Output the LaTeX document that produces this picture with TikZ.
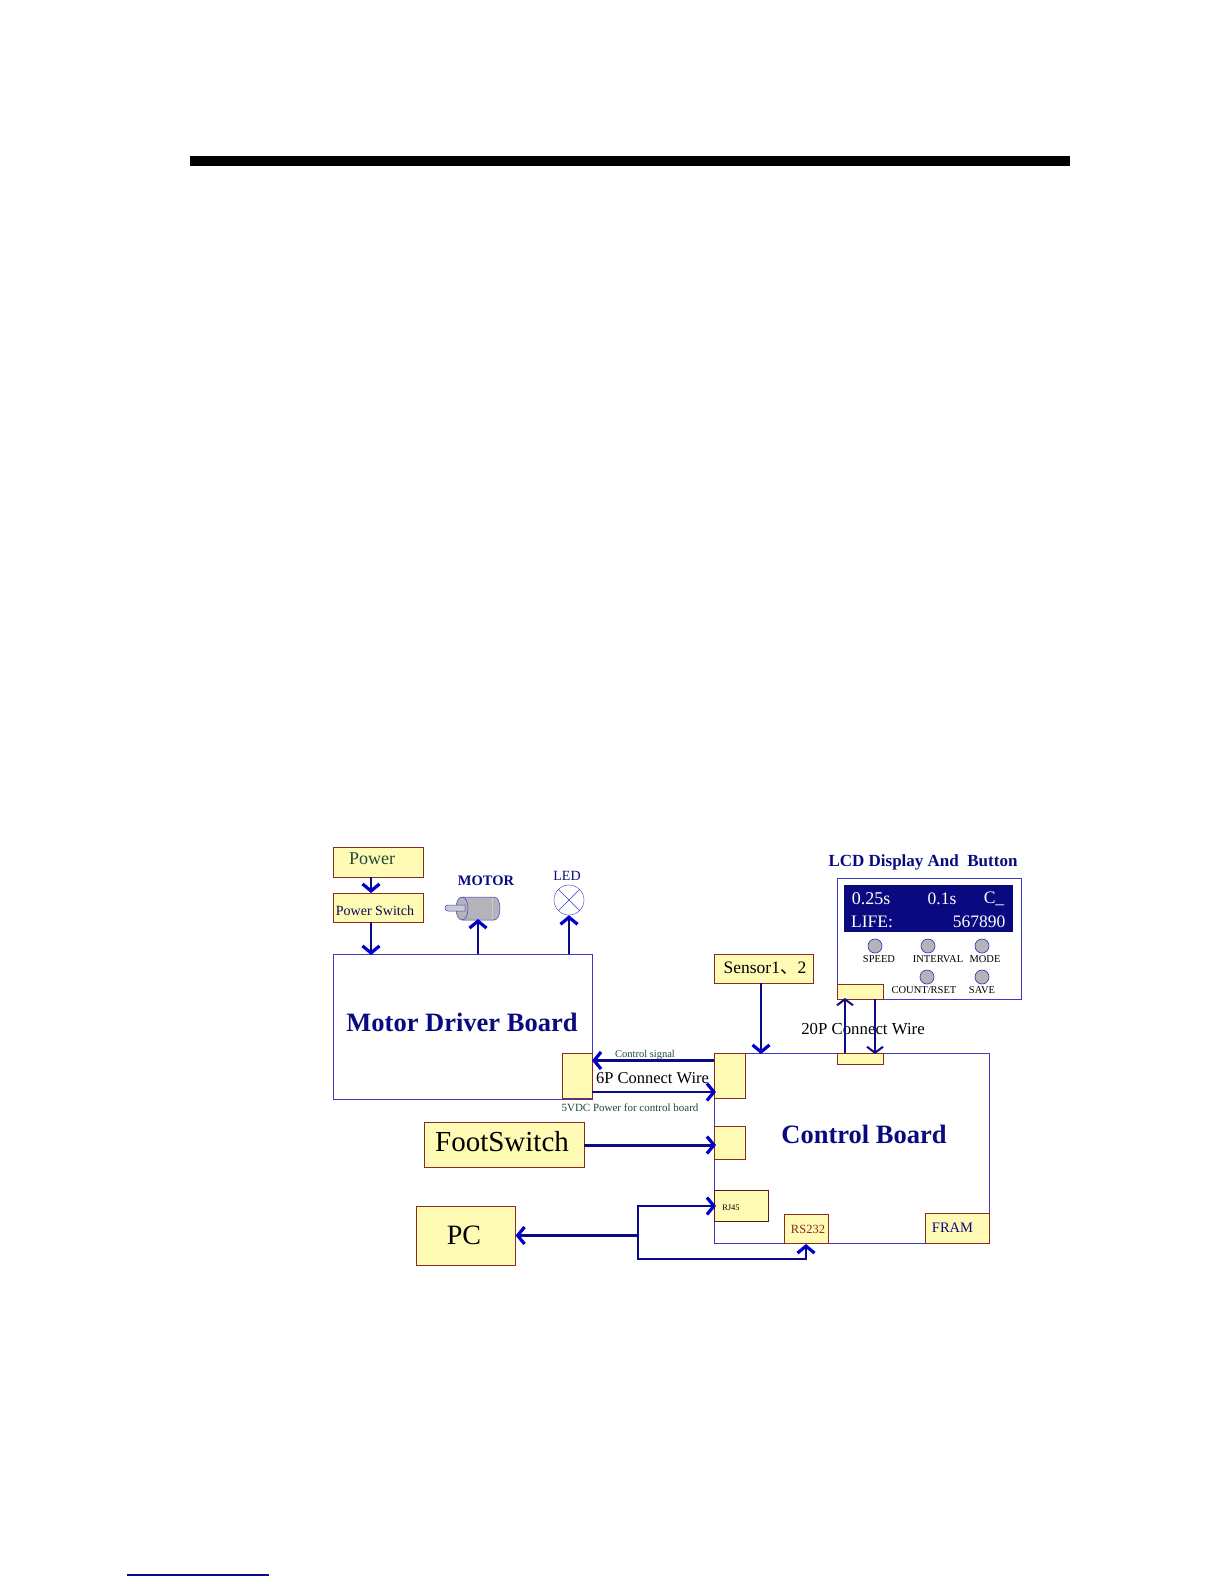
\documentclass[tikz,border=0pt]{standalone}
\usepackage{xcolor}
\usepackage{fontspec}
\setmainfont{Liberation Serif}
\newfontfamily\cjk{Noto Sans CJK SC}
\usepackage{tikz}
\usetikzlibrary{arrows.meta, positioning, shapes.geometric, calc}
\definecolor{padyellow}{HTML}{FFFBB4}
\definecolor{padedge}{HTML}{8A2A20}
\definecolor{boardedge}{HTML}{3A3AC4}
\definecolor{wirenavy}{HTML}{0A0A8A}
\definecolor{tipblue}{HTML}{0000CC}
\definecolor{lcdnavy}{HTML}{0A0A80}
\definecolor{dullgreen}{HTML}{1E4A3A}
\definecolor{btngray}{HTML}{B4B4B8}
\newcommand{\px}[1]{\fontsize{#1}{#1}\selectfont}

\begin{document}
\begin{tikzpicture}[
    x=1pt, y=-1pt,
    pad/.style={rectangle, draw=padedge, fill=padyellow, line width=1pt, inner sep=0pt},
    board/.style={rectangle, draw=boardedge, line width=1pt, inner sep=0pt},
    wire/.style={draw=wirenavy, line width=2.6pt},
    into/.style={wire, -{Straight Barb[color=tipblue, length=7pt, width=17pt, line width=3.2pt]}},
    thinwire/.style={draw=wirenavy, line width=2pt, -{Straight Barb[length=6pt, width=16pt, line width=2pt]}},
    title/.style={inner sep=0pt, text=lcdnavy, font=\bfseries\px{26.5}},
    small/.style={inner sep=0pt, font=\px{10.5}, text=black},
    button/.style={circle, draw=boardedge, fill=btngray, line width=0.7pt, minimum size=14pt, inner sep=0pt}
]
\useasboundingbox (0,0) rectangle (1224,1584);

\fill[black] (190,156) rectangle (1070,166);
\draw[wirenavy, line width=1.2pt] (127,1575) -- (269,1575);

% boards
\node[board, minimum width=259pt, minimum height=145pt] (driver) at (462.5,1026.5) {};
\node[board, minimum width=275pt, minimum height=190pt] (control) at (851.5,1148) {};
\node[title] (drivertitle) at (462,1022) {Motor Driver Board};
\node[title] (controltitle) at (864,1134) {Control Board};

% boxes on the left
\node[pad, minimum width=90pt, minimum height=30pt] (power) at (378,862) {};
\node[inner sep=0pt, text=dullgreen, font=\px{18}] (powertext) at (372,859) {Power};
\node[pad, minimum width=90pt, minimum height=29pt] (powsw) at (378,907.5) {};
\node[inner sep=0pt, text=lcdnavy!70!black, font=\px{14}] (powswtext) at (375,911) {Power Switch};
\node[pad, minimum width=160pt, minimum height=45pt] (foot) at (504,1144.5) {};
\node[inner sep=0pt, font=\px{29}] (foottext) at (502,1142) {FootSwitch};
\node[pad, minimum width=99pt, minimum height=59pt] (pc) at (465.5,1235.5) {};
\node[inner sep=0pt, font=\px{28}] (pctext) at (464,1235) {PC};
\node[pad, minimum width=99pt, minimum height=29pt] (sensor) at (763.5,968.5) {};
\node[inner sep=0pt, font=\px{17.5}] (sensortext) at (765,968) {Sensor1{\cjk 、}2};

% connectors on the boards
\node[pad, minimum width=30pt, minimum height=45pt] (driverpad) at (577,1075.5) {};
\node[pad, minimum width=31pt, minimum height=45pt] (ctrlpad) at (729.5,1075.5) {};
\node[pad, minimum width=31pt, minimum height=33pt] (footpad) at (729.5,1142.5) {};
\node[pad, draw=black!35!padedge, minimum width=54pt, minimum height=31pt] (rjpad) at (741,1205.5) {};
\node[small, font=\px{8.5}] (rjtext) at (731,1208) {RJ45};
\node[pad, minimum width=44pt, minimum height=29pt] (rspad) at (806,1228.5) {};
\node[small, text=padedge, font=\px{12.5}] (rstext) at (808,1229) {RS232};
\node[pad, minimum width=64pt, minimum height=30pt] (frampad) at (957,1228) {};
\node[small, text=lcdnavy, font=\px{14.5}] (framtext) at (952.5,1228) {FRAM};

% lcd panel
\node[inner sep=0pt, text=lcdnavy, font=\bfseries\px{17}] (lcdtitle) at (923,862) {LCD Display And\ \ Button};
\node[board, minimum width=184pt, minimum height=121pt] (lcd) at (929,938.5) {};
\node[rectangle, fill=lcdnavy, minimum width=169pt, minimum height=47pt, inner sep=0pt] (screen) at (928.5,908.5) {};
\node[inner sep=0pt, text=white, font=\px{18}] (speedval) at (871,899) {0.25s};
\node[inner sep=0pt, text=white, font=\px{17.5}] (gapval) at (942,899) {0.1s};
\node[inner sep=0pt, text=white, font=\px{17.5}] (modeval) at (994,899) {C\_};
\node[inner sep=0pt, text=white, font=\px{17.5}] (lifeval) at (872,922) {LIFE:};
\node[inner sep=0pt, text=white, font=\px{17.5}] (countval) at (979,922) {567890};
\node[button] (speedbtn) at (875,946) {};
\node[button] (intervalbtn) at (928,946) {};
\node[button] (modebtn) at (982,946) {};
\node[button] (countbtn) at (927,977) {};
\node[button] (savebtn) at (982,977) {};
\node[small] (speedtext) at (879,959.5) {SPEED};
\node[small] (intervaltext) at (938,959.5) {INTERVAL};
\node[small] (modetext) at (985,959.5) {MODE};
\node[small] (counttext) at (924,990.5) {COUNT/RSET};
\node[small] (savetext) at (982,990.5) {SAVE};
\node[pad, minimum width=46pt, minimum height=15pt] (lcdpad) at (860,991.5) {};
\node[pad, minimum width=46pt, minimum height=11pt] (toppad) at (860,1058.5) {};

% motor and lamp
\draw[boardedge, fill=btngray, line width=0.5pt] (462,897) -- (494,897) .. controls (502,897) and (502,920) .. (494,920) -- (462,920) .. controls (454,920) and (454,897) .. (462,897) -- cycle;
\draw[boardedge, line width=0.5pt] (462,897) .. controls (470,897) and (470,920) .. (462,920);
\draw[btngray!70!white, line width=0.8pt] (492,898) -- (492,919);
\draw[boardedge, fill=btngray!70, line width=0.5pt] (465,905) -- (448,905) .. controls (444,905) and (444,911) .. (448,911) -- (465,911) -- cycle;
\node[inner sep=0pt, text=lcdnavy, font=\bfseries\px{14.5}] (motortext) at (486,881) {MOTOR};
\node[circle, draw=boardedge, minimum size=30pt, inner sep=0pt] (led) at (569,900) {};
\draw[boardedge, line width=0.5pt] (led.north east) -- (led.south west);
\draw[boardedge, line width=0.5pt] (led.north west) -- (led.south east);
\node[inner sep=0pt, text=lcdnavy, font=\px{14}] (ledtext) at (567,876) {LED};

% wire labels
\node[inner sep=0pt, font=\px{10.5}, text=dullgreen] (signaltext) at (645,1055) {Control signal};
\node[inner sep=0pt, font=\px{16.5}] (sixptext) at (652.5,1078) {6P Connect Wire};
\node[inner sep=0pt, font=\px{11}, text=dullgreen] (powertwotext) at (630,1108) {5VDC Power for control board};
\node[inner sep=0pt, font=\px{16.8}] (twentyptext) at (863,1029) {20P Connect Wire};

% wires
\coordinate (powerout) at (371,877);
\coordinate (swin) at (371,893);
\coordinate (swout) at (371,922);
\coordinate (driverin) at (371,955);
\coordinate (motorout) at (478,954);
\coordinate (motorin) at (478,919);
\coordinate (ledout) at (569,954);
\coordinate (sensorout) at (761,983);
\coordinate (sensorin) at (761,1054);
\coordinate (ctrlsig) at (714,1060.5);
\coordinate (driversig) at (592,1060.5);
\coordinate (driverpw) at (592,1092);
\coordinate (ctrlpw) at (716,1092);
\coordinate (footin) at (716,1145);
\coordinate (footout) at (584,1145);
\coordinate (fork) at (638,1235.5);
\coordinate (forkup) at (638,1206);
\coordinate (rjin) at (716,1206);
\coordinate (forkdown) at (638,1259);
\coordinate (rsbelow) at (806,1259);
\coordinate (rsin) at (806,1244);
\coordinate (upfrom) at (845,1053);
\coordinate (upto) at (845,998);
\coordinate (downfrom) at (875,999);
\coordinate (downto) at (875,1054);

\draw[into] (powerout) -- (swin);
\draw[into] (swout) -- (driverin);
\draw[into] (motorout) -- (motorin);
\draw[into] (ledout) -- (led.south);
\draw[into] (sensorout) -- (sensorin);
\draw[into] (ctrlsig) -- (driversig);
\draw[into] (driverpw) -- (ctrlpw);
\draw[into, line width=3pt] (footout) -- (footin);
\draw[into] (fork) -- (pc.east);
\draw[into] (fork) -- (forkup) -- (rjin);
\draw[into] (fork) -- (forkdown) -- (rsbelow) -- (rsin);
\draw[thinwire] (upfrom) -- (upto);
\draw[thinwire] (downfrom) -- (downto);

\end{tikzpicture}
\end{document}
